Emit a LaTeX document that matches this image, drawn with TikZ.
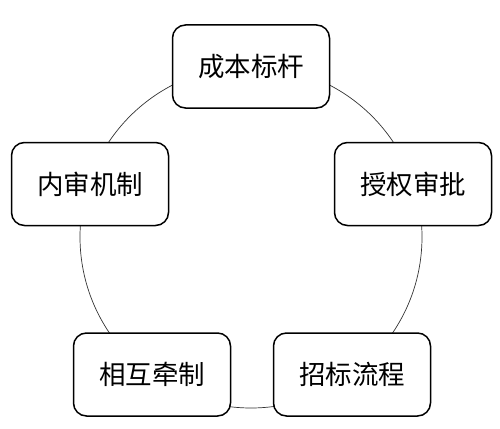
\documentclass[tikz,border=0pt]{standalone}
\usepackage{fontspec}
\newfontfamily\cjk{Noto Sans CJK SC}[Scale=1]
\begin{document}
\begin{tikzpicture}[x=1pt,y=-1pt,
  itembox/.style={draw=black, line width=1.5pt, rounded corners=13pt, fill=white,
    minimum width=157pt, minimum height=83pt, inner sep=0pt,
    font=\cjk\fontsize{26.5}{30}\selectfont},
  ring/.style={draw=black!80, line width=0.7pt}]
\useasboundingbox (0,0) rectangle (500,428);
\coordinate (c) at (251,237);
\draw[ring] (c) circle[radius=171pt];
\node[itembox] (a) at (251,66.5) {成本标杆};
\node[itembox] (b) at (413,184) {授权审批};
\node[itembox] (d) at (352,374.5) {招标流程};
\node[itembox] (e) at (152,374.5) {相互牵制};
\node[itembox] (f) at (90,184) {内审机制};
\end{tikzpicture}
\end{document}
